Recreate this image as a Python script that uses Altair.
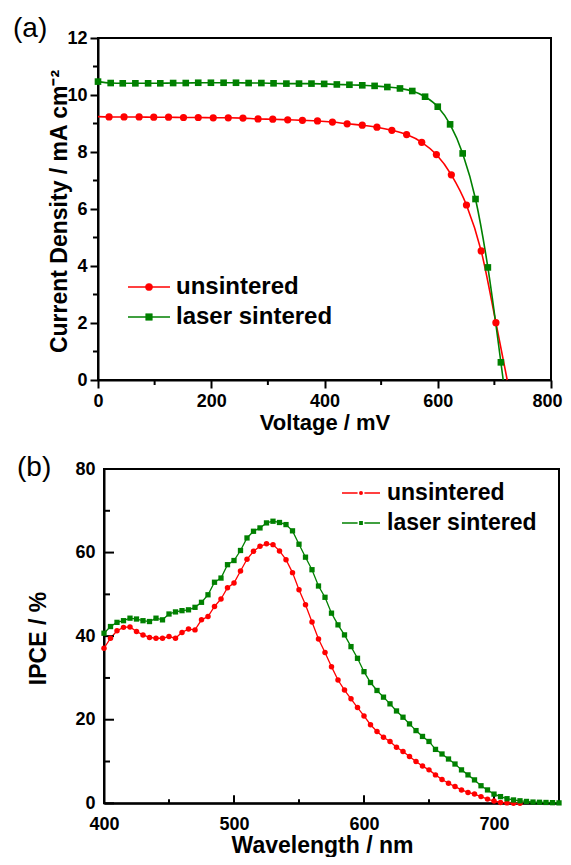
import altair as alt
import pandas as pd

FONT = "Liberation Sans, Arial, Helvetica, sans-serif"
RED = "#ff0000"
GREEN = "#008000"
SERIES = ["unsintered", "laser sintered"]

# ---------------- Panel (a): J-V curves ----------------
unsint_v = [19.5, 46, 72.6, 98.5, 124.5, 151, 177, 203.5, 230, 256, 282.6, 308.6, 335, 361,
            387.6, 414, 440, 466.7, 492.6, 519, 545, 571.7, 597.6, 624, 650.7, 676.7, 702.7]
unsint_j = [9.23, 9.23, 9.23, 9.22, 9.22, 9.21, 9.21, 9.20, 9.20, 9.19, 9.16, 9.15, 9.13, 9.11,
            9.09, 9.05, 8.99, 8.94, 8.87, 8.76, 8.61, 8.34, 7.91, 7.20, 6.14, 4.53, 2.01]
unsint_line_start = (0, 9.24)
unsint_line_end = (722.7, 0.0)

laser_v = [0, 22.4, 43.7, 66, 88.5, 110, 132.7, 155, 177, 199.4, 221.8, 243.7, 266, 288.5, 310,
           332.7, 355, 377, 399.4, 421.8, 444, 466.7, 488.5, 511, 533.3, 555, 577.6, 600, 621.8,
           644, 666.7, 688.5, 711.5]
laser_j = [10.47, 10.42, 10.41, 10.41, 10.41, 10.41, 10.42, 10.42, 10.43, 10.43, 10.43, 10.43,
           10.42, 10.42, 10.41, 10.40, 10.40, 10.40, 10.39, 10.37, 10.36, 10.34, 10.32, 10.28,
           10.23, 10.14, 9.94, 9.59, 8.97, 7.95, 6.35, 3.95, 0.62]
laser_line_end = (715.6, 0.0)

a_x_ticks = [0, 200, 400, 600, 800]
a_x_minor = [100, 300, 500, 700]
a_y_ticks = [0, 2, 4, 6, 8, 10, 12]
a_y_minor = [1, 3, 5, 7, 9, 11]

# ---------------- Panel (b): IPCE spectra ----------------
unsint_wl = [400, 405, 410, 415, 420, 425, 430, 435, 440, 445, 450, 455, 460, 465, 470, 475,
             480, 485, 490, 495, 500, 505, 510, 515, 520, 525, 530, 535, 540, 545, 550, 555,
             560, 565, 570, 575, 580, 585, 590, 595, 600, 605, 610, 615, 620, 625, 630, 635,
             640, 645, 650, 655, 660, 665, 670, 675, 680, 685, 690, 695, 700, 705, 710, 715, 720]
unsint_ipce = [37.1, 39.5, 41.3, 42.1, 42.2, 41.1, 40.3, 39.7, 39.5, 39.5, 39.9, 39.5, 40.9,
               41.7, 41.5, 43.9, 44.7, 47.1, 48.9, 51.6, 52.7, 55.6, 58.4, 60.3, 61.5, 62.1,
               61.9, 60.4, 58.3, 55.2, 51.1, 47.5, 43.4, 39.3, 36.1, 32.7, 29.5, 27.1, 25.0,
               22.9, 20.9, 18.8, 17.2, 15.8, 14.8, 13.4, 12.4, 11.2, 10.0, 8.9, 8.0, 6.8, 5.7,
               4.8, 4.0, 3.2, 2.6, 2.2, 1.6, 1.0, 0.55, 0.2, 0.1, 0.0, 0.0]
laser_wl = [400, 405, 410, 415, 420, 425, 430, 435, 440, 445, 450, 455, 460, 465, 470, 475,
            480, 485, 490, 495, 500, 505, 510, 515, 520, 525, 530, 535, 540, 545, 550, 555,
            560, 565, 570, 575, 580, 585, 590, 595, 600, 605, 610, 615, 620, 625, 630, 635,
            640, 645, 650, 655, 660, 665, 670, 675, 680, 685, 690, 695, 700, 705, 710, 715,
            720, 725, 730, 735, 740, 745, 750]
laser_ipce = [40.7, 42.3, 43.3, 43.7, 44.3, 44.1, 43.7, 43.5, 44.3, 43.9, 45.3, 45.8, 46.1,
              46.3, 46.9, 48.1, 49.9, 52.9, 53.9, 57.1, 58.1, 60.5, 63.5, 65.1, 65.9, 67.1,
              67.5, 67.2, 66.7, 65.2, 62.0, 58.9, 55.9, 52.0, 49.3, 45.5, 42.7, 40.3, 37.5,
              34.7, 31.5, 28.9, 27.0, 25.4, 23.8, 22.1, 20.6, 19.0, 17.4, 16.0, 14.8, 12.9,
              11.8, 10.6, 9.4, 8.0, 6.8, 5.6, 4.2, 3.2, 2.2, 1.6, 1.1, 0.8, 0.6, 0.45, 0.3,
              0.25, 0.2, 0.15, 0.1]

b_x_ticks = [400, 500, 600, 700]
b_x_minor = [450, 550, 650]
b_y_ticks = [0, 20, 40, 60, 80]
b_y_minor = [10, 30, 50, 70]

# ---------------- layout (whole chart = one view, panels placed by scale ranges) ----------------
W, H = 555, 849
XA_RANGE = [90, 543]
YA_RANGE = [372, 30]
XB_RANGE = [96, 551]
YB_RANGE = [795.3, 461]


def axis(**kw):
    base = dict(labelFont=FONT, labelFontSize=18, labelFontWeight="bold", labelColor="black",
                titleFont=FONT, titleFontWeight="bold", titleColor="black",
                domainColor="black", domainWidth=2, tickColor="black", tickWidth=2,
                grid=False, labelFlush=False, labelOverlap=False)
    base.update(kw)
    return alt.Axis(**base)


def legend_row(label, color, shape, size, x0, x1, xm, xt, y, fs, gap):
    base = alt.Chart(pd.DataFrame({"label": [label]}))
    line = base.mark_rule(color=color, strokeWidth=1.6).encode(
        x=alt.value(x0), x2=alt.value(x1), y=alt.value(y))
    pt = base.mark_point(filled=True, opacity=1, shape=shape, size=size, fill=color,
                         stroke="white" if gap else color,
                         strokeWidth=1.5 if gap else 0.5).encode(
        x=alt.value(xm), y=alt.value(y))
    txt = base.mark_text(align="left", baseline="middle", font=FONT, fontSize=fs,
                         fontWeight="bold", color="black").encode(
        x=alt.value(xt), y=alt.value(y), text="label:N")
    return [line, pt, txt]


def panel_label(text, x, y):
    return alt.Chart(pd.DataFrame({"t": [text]})).mark_text(
        align="left", baseline="alphabetic", font=FONT, fontSize=28, color="black").encode(
        x=alt.value(x), y=alt.value(y), text="t:N")


cscale = alt.Scale(domain=SERIES, range=[RED, GREEN])

# ---------------- panel (a) ----------------
line_a = pd.DataFrame({
    "series": ["unsintered"] * (len(unsint_v) + 2) + ["laser sintered"] * (len(laser_v) + 1),
    "V": [unsint_line_start[0]] + unsint_v + [unsint_line_end[0]] + laser_v + [laser_line_end[0]],
    "J": [unsint_line_start[1]] + unsint_j + [unsint_line_end[1]] + laser_j + [laser_line_end[1]],
})
pts_a_red = pd.DataFrame({"V": unsint_v, "J": unsint_j})
pts_a_green = pd.DataFrame({"V": laser_v, "J": laser_j})
frame_a = pd.DataFrame({"V": [a_x_ticks[0]], "V2": [a_x_ticks[-1]],
                        "J": [a_y_ticks[0]], "J2": [a_y_ticks[-1]]})

XA = alt.X("V:Q", scale=alt.Scale(domain=[0, 800], range=XA_RANGE, nice=False, zero=False),
           axis=axis(orient="bottom", offset=YA_RANGE[0] - H, values=a_x_ticks, tickSize=8,
                     labelPadding=4,
                     labelOffset={"condition": {"test": "datum.value >= 800", "value": -4},
                                  "value": 0},
                     title="Voltage / mV", titleFontSize=22,
                     titleX=(XA_RANGE[0] + XA_RANGE[1]) / 2, titleY=49,
                     titleBaseline="alphabetic", titleAlign="center"))
YA = alt.Y("J:Q", scale=alt.Scale(domain=[0, 12], range=YA_RANGE, nice=False, zero=False),
           axis=axis(orient="left", offset=-XA_RANGE[0], values=a_y_ticks, tickSize=8,
                     labelPadding=3, title="Current Density / mA cm\u207b\u00b2",
                     titleFontSize=23, titleAngle=270, titleX=-31.5, titleY=203,
                     titleBaseline="alphabetic", titleAlign="center"))

a_frame = alt.Chart(frame_a).mark_rect(filled=False, stroke="black", strokeWidth=2).encode(
    x=XA, x2="V2:Q", y=YA, y2="J2:Q")
a_lines = alt.Chart(line_a).mark_line(interpolate="monotone", strokeWidth=1.6).encode(
    x=XA, y=YA, color=alt.Color("series:N", scale=cscale, legend=None), order=alt.Order("V:Q"))
a_minor_x = alt.Chart(pd.DataFrame({"V": a_x_minor})).mark_rule(color="black", strokeWidth=2).encode(
    x=XA, y=alt.value(YA_RANGE[0]), y2=alt.value(YA_RANGE[0] + 5))
a_minor_y = alt.Chart(pd.DataFrame({"J": a_y_minor})).mark_rule(color="black", strokeWidth=2).encode(
    y=YA, x=alt.value(XA_RANGE[0] - 5), x2=alt.value(XA_RANGE[0]))
a_pts_red = alt.Chart(pts_a_red).mark_point(filled=True, opacity=1, shape="circle", size=52,
                                            color=RED).encode(x=XA, y=YA)
a_pts_green = alt.Chart(pts_a_green).mark_point(filled=True, opacity=1, shape="square", size=44,
                                                color=GREEN).encode(x=XA, y=YA)

a_legend = (legend_row("unsintered", RED, "circle", 52, 120, 162, 141, 168, 279, 24, False)
            + legend_row("laser sintered", GREEN, "square", 44, 120, 162, 141, 168, 309, 24, False))

panel_a = alt.layer(
    a_frame, a_lines, a_minor_x, a_minor_y, a_pts_red, a_pts_green, *a_legend,
    panel_label("(a)", 5, 29),
)

# ---------------- panel (b) ----------------
line_b = pd.DataFrame({
    "series": ["unsintered"] * len(unsint_wl) + ["laser sintered"] * len(laser_wl),
    "W": unsint_wl + laser_wl,
    "P": unsint_ipce + laser_ipce,
})
pts_b_red = pd.DataFrame({"W": unsint_wl, "P": unsint_ipce})
pts_b_green = pd.DataFrame({"W": laser_wl, "P": laser_ipce})
frame_b = pd.DataFrame({"W": [400], "W2": [750], "P": [b_y_ticks[0]], "P2": [b_y_ticks[-1]]})

XB = alt.X("W:Q", scale=alt.Scale(domain=[400, 750], range=XB_RANGE, nice=False, zero=False),
           axis=axis(orient="bottom", offset=YB_RANGE[0] - H, values=b_x_ticks, ticks=False,
                     tickSize=0, labelPadding=12, title="Wavelength / nm", titleFontSize=23,
                     titleX=314, titleY=H - 4.5 - YB_RANGE[0], titleBaseline="alphabetic",
                     titleAlign="center"))
YB = alt.Y("P:Q", scale=alt.Scale(domain=[0, 80], range=YB_RANGE, nice=False, zero=False),
           axis=axis(orient="left", offset=-XB_RANGE[0], values=b_y_ticks, ticks=False,
                     tickSize=0, labelPadding=9, title="IPCE / %", titleFontSize=23,
                     titleAngle=270, titleX=-59, titleY=630, titleBaseline="alphabetic",
                     titleAlign="center"))

b_frame = alt.Chart(frame_b).mark_rect(filled=False, stroke="black", strokeWidth=2).encode(
    x=XB, x2="W2:Q", y=YB, y2="P2:Q")
b_lines = alt.Chart(line_b).mark_line(strokeWidth=1.3).encode(
    x=XB, y=YB, color=alt.Color("series:N", scale=cscale, legend=None), order=alt.Order("W:Q"))
b_major_x = alt.Chart(pd.DataFrame({"W": b_x_ticks})).mark_rule(color="black", strokeWidth=2).encode(
    x=XB, y=alt.value(YB_RANGE[0]), y2=alt.value(YB_RANGE[0] - 8))
b_minor_x = alt.Chart(pd.DataFrame({"W": b_x_minor})).mark_rule(color="black", strokeWidth=2).encode(
    x=XB, y=alt.value(YB_RANGE[0]), y2=alt.value(YB_RANGE[0] - 4))
b_major_y = alt.Chart(pd.DataFrame({"P": b_y_ticks})).mark_rule(color="black", strokeWidth=2).encode(
    y=YB, x=alt.value(XB_RANGE[0]), x2=alt.value(XB_RANGE[0] + 10))
b_minor_y = alt.Chart(pd.DataFrame({"P": b_y_minor})).mark_rule(color="black", strokeWidth=2).encode(
    y=YB, x=alt.value(XB_RANGE[0]), x2=alt.value(XB_RANGE[0] + 6))
b_pts_red = alt.Chart(pts_b_red).mark_point(filled=True, opacity=1, shape="circle", size=30,
                                            color=RED).encode(x=XB, y=YB)
b_pts_green = alt.Chart(pts_b_green).mark_point(filled=True, opacity=1, shape="square", size=28,
                                                color=GREEN).encode(x=XB, y=YB)

b_legend = (legend_row("unsintered", RED, "circle", 30, 334, 372, 353, 379, 485, 23, True)
            + legend_row("laser sintered", GREEN, "square", 28, 334, 372, 353, 379, 515, 23, True))

panel_b = alt.layer(
    b_frame, b_lines, b_major_x, b_minor_x, b_major_y, b_minor_y, b_pts_red, b_pts_green,
    *b_legend, panel_label("(b)", 9, 468),
)

chart = alt.layer(panel_a, panel_b).resolve_scale(
    x="independent", y="independent"
).properties(
    width=W, height=H, autosize=alt.AutoSizeParams(type="none"),
    padding={"left": 0, "top": 0, "right": 0, "bottom": 0}, background="white",
).configure_view(strokeWidth=0)

chart.save("out.html", embed_options={"renderer": "svg", "actions": False})
